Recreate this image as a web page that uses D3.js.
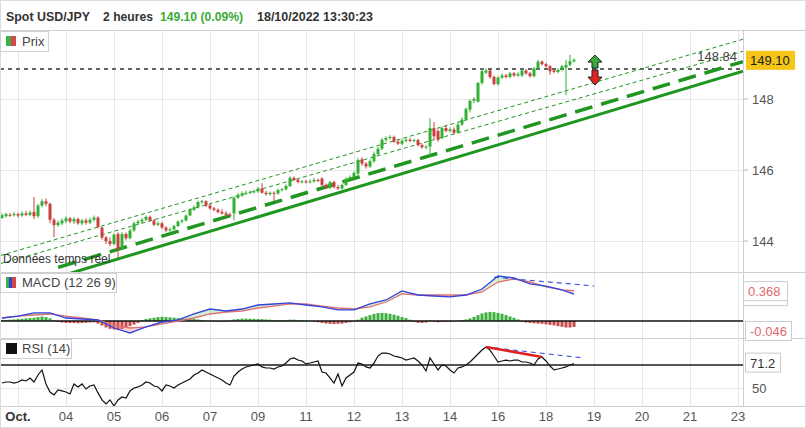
<!DOCTYPE html>
<html><head><meta charset="utf-8">
<script src="https://cdn.jsdelivr.net/npm/d3@7"></script>
<style>body{margin:0;background:#fff}svg{display:block;font-family:"Liberation Sans",Arial,sans-serif}</style>
</head><body><svg id="c" width="806" height="428"></svg>
<script>
// ---------- DATA ----------
const tickIdx = [4,16,28,40,52,64,76,88,100,112,124,136,148,160,172,184];
const tickLabels = ["Oct.","04","05","06","07","09","11","12","13","14","16","18","19","20","21","23"];
const priceTicks = [148,146,144];

const opens=[144.65,144.70,144.74,144.73,144.76,144.72,144.78,144.74,144.82,144.70,
145.00,145.12,145.05,144.60,144.45,144.50,144.56,144.64,144.55,144.62,
144.50,144.58,144.52,144.60,144.66,144.38,144.10,144.00,143.92,144.20,
143.80,144.20,144.08,144.30,144.50,144.55,144.60,144.68,144.58,144.46,
144.50,144.38,144.30,144.33,144.42,144.55,144.58,144.72,144.88,144.95,
145.10,145.12,145.00,144.92,144.88,144.82,144.78,144.74,144.78,145.22,
145.28,145.34,145.36,145.38,145.40,145.48,145.36,145.32,145.36,145.34,
145.44,145.46,145.55,145.78,145.72,145.66,145.68,145.66,145.68,145.72,
145.76,145.58,145.50,145.66,145.52,145.48,145.58,145.75,145.80,145.90,
146.30,146.18,146.10,146.25,146.45,146.60,146.85,146.90,146.93,146.80,
146.74,146.82,146.85,146.82,146.84,146.70,146.64,146.66,147.18,147.10,
146.90,147.18,147.10,147.14,147.05,147.28,147.42,147.70,147.95,147.92,
148.45,148.74,148.80,148.62,148.42,148.60,148.66,148.62,148.72,148.66,
148.66,148.80,148.72,148.64,148.86,149.05,148.98,148.92,148.80,148.76,
148.82,148.88,148.96,149.06];
const highs=[144.78,144.80,144.79,144.82,144.80,144.84,144.85,144.86,145.24,145.05,
145.18,145.20,145.08,144.65,144.58,144.64,144.70,144.68,144.68,144.66,
144.62,144.64,144.66,144.72,144.70,144.40,144.15,144.10,144.22,144.25,
144.25,144.24,144.35,144.55,144.60,144.66,144.72,144.72,144.62,144.55,
144.54,144.42,144.38,144.46,144.58,144.62,144.75,144.92,145.00,145.14,
145.16,145.15,145.05,144.96,144.92,144.90,144.84,144.80,145.26,145.36,
145.40,145.42,145.42,145.45,145.52,145.63,145.42,145.40,145.40,145.48,
145.50,145.60,145.82,145.82,145.76,145.72,145.72,145.74,145.78,145.76,
145.80,145.62,145.70,145.70,145.58,145.62,145.80,145.85,145.96,146.34,
146.36,146.22,146.30,146.52,146.65,146.90,146.95,146.98,146.97,146.86,
146.88,146.90,146.90,146.88,146.88,146.75,146.70,147.46,147.35,147.14,
147.22,147.27,147.20,147.20,147.32,147.48,147.76,147.98,148.05,148.48,
148.82,148.86,148.84,148.66,148.64,148.72,148.70,148.76,148.76,148.75,
148.85,148.84,148.76,148.90,149.10,149.08,149.02,148.96,148.86,148.86,
148.96,149.10,149.24,149.14];
const lows=[144.62,144.66,144.68,144.69,144.66,144.68,144.70,144.70,144.62,144.66,
144.95,144.98,144.50,144.11,144.40,144.45,144.50,144.50,144.48,144.46,
144.44,144.46,144.48,144.55,144.36,144.04,143.92,143.85,143.88,143.52,
143.76,144.02,144.05,144.26,144.45,144.50,144.56,144.55,144.42,144.42,
144.34,144.25,144.26,144.30,144.40,144.50,144.55,144.70,144.85,144.92,
145.05,144.96,144.88,144.84,144.78,144.74,144.70,144.68,144.58,145.18,
145.24,145.30,145.32,145.34,145.36,145.34,145.28,145.28,145.12,145.30,
145.40,145.42,145.52,145.68,145.62,145.62,145.62,145.62,145.64,145.66,
145.54,145.46,145.46,145.48,145.44,145.45,145.55,145.72,145.76,145.86,
146.12,146.04,146.06,146.20,146.40,146.56,146.80,146.86,146.76,146.70,
146.70,146.78,146.78,146.78,146.66,146.60,146.58,146.37,146.85,146.80,
146.86,147.06,147.06,147.00,147.02,147.24,147.38,147.62,147.88,147.90,
148.40,148.70,148.56,148.38,148.38,148.56,148.58,148.58,148.62,148.62,
148.62,148.68,148.60,148.60,148.82,148.94,148.88,148.68,148.72,148.72,
148.78,148.11,148.92,149.02];
const closes=[144.73,144.76,144.73,144.76,144.72,144.78,144.74,144.80,144.70,145.00,
145.12,145.05,144.60,144.45,144.52,144.58,144.64,144.55,144.62,144.50,
144.58,144.52,144.60,144.66,144.40,144.10,144.00,143.92,144.18,143.78,
144.20,144.08,144.30,144.50,144.55,144.60,144.68,144.58,144.46,144.50,
144.38,144.30,144.33,144.42,144.55,144.58,144.72,144.88,144.95,145.10,
145.12,145.00,144.92,144.88,144.82,144.78,144.74,144.72,145.22,145.30,
145.34,145.36,145.38,145.40,145.48,145.36,145.32,145.36,145.34,145.44,
145.46,145.55,145.78,145.72,145.66,145.68,145.66,145.68,145.72,145.70,
145.58,145.50,145.66,145.52,145.48,145.58,145.75,145.80,145.92,146.28,
146.18,146.10,146.25,146.45,146.60,146.85,146.90,146.93,146.80,146.74,
146.82,146.85,146.82,146.84,146.70,146.64,146.66,147.18,146.95,146.85,
147.18,147.10,147.14,147.05,147.28,147.42,147.72,147.95,148.00,148.45,
148.78,148.80,148.62,148.42,148.60,148.66,148.62,148.72,148.66,148.70,
148.80,148.72,148.64,148.86,149.05,148.98,148.92,148.78,148.76,148.82,
148.92,148.96,149.06,149.10];

const lastPrice = 149.10;
const refLevel = 148.84;
// channel lines: [index0, price0, index1, price1]
const solidLine = [-0.5,142.50,185.25,148.78];
const longDashLine = [14,143.26,185.25,149.05];
const thinLines = [[-0.5,143.59,185.25,149.68],[-0.5,143.36,185.25,149.34]];

// MACD (sampled at macdIdx)
const macdIdx=[0,4,8,12,16,20,24,28,32,36,40,44,48,52,56,60,64,68,72,76,80,84,88,92,96,100,104,108,112,116,120,124,128,132,136,140,143];
const macdVals=[0.041,0.068,0.110,0.110,0.041,0.027,0.014,-0.096,-0.164,-0.082,
-0.014,0.014,0.096,0.164,0.137,0.164,0.219,0.233,0.247,0.219,
0.192,0.151,0.151,0.233,0.288,0.411,0.356,0.342,0.329,0.356,
0.438,0.616,0.589,0.507,0.479,0.425,0.368];
const signalVals=[0.041,0.068,0.082,0.096,0.068,0.041,0.014,-0.055,-0.096,-0.082,
-0.041,0,0.041,0.096,0.123,0.137,0.178,0.205,0.233,0.233,
0.205,0.178,0.164,0.192,0.260,0.370,0.356,0.356,0.356,0.356,
0.397,0.534,0.575,0.534,0.466,0.425,0.414];
const histVals=[0.005,0.008,0.01,0.012,0.015,0.017,0.02,0.022,0.025,0.03,
0.034,0.03,0.02,0.005,-0.008,-0.012,-0.015,-0.016,-0.016,-0.018,
-0.016,-0.014,-0.012,-0.01,-0.02,-0.035,-0.05,-0.06,-0.065,-0.07,
-0.062,-0.05,-0.04,-0.028,-0.015,0.005,0.015,0.02,0.025,0.03,
0.032,0.03,0.028,0.025,0.022,0.02,0.018,0.016,0.015,0.012,
0.008,0.004,0.002,-0.003,-0.005,-0.006,-0.004,0.004,0.012,0.015,
0.018,0.018,0.017,0.016,0.015,0.014,0.012,0.01,0.008,0.006,
0.006,0.007,0.01,0.01,0.008,0.005,0.003,0.001,-0.005,-0.01,
-0.015,-0.02,-0.022,-0.024,-0.022,-0.02,-0.015,-0.01,-0.004,0.01,
0.025,0.035,0.045,0.055,0.06,0.062,0.06,0.055,0.048,0.04,
0.03,0.022,0.01,-0.008,-0.014,-0.015,-0.012,0.004,-0.006,-0.01,
-0.008,-0.006,-0.004,-0.002,0.002,0.006,0.012,0.02,0.032,0.045,
0.058,0.066,0.07,0.068,0.062,0.055,0.045,0.035,0.025,0.012,
-0.006,-0.012,-0.015,-0.018,-0.02,-0.022,-0.026,-0.03,-0.034,-0.04,
-0.045,-0.05,-0.05,-0.046];
const macdTrend=[123,0.60,148,0.48];
const macdLabel=0.368, histLabel=-0.046;

// RSI (14)
const rsiVals=[54.3,55.2,55.2,54.3,55.2,57.0,56.1,58.7,55.2,61.3,
65.7,53.5,46.5,43.9,48.3,47.4,46.5,44.8,53.5,50.9,
53.5,49.1,51.7,52.6,45.7,39.6,36.1,39.6,34.3,39.6,
42.2,41.3,47.4,50.0,50.9,52.6,55.2,54.3,51.7,50.9,
47.4,52.6,51.7,50.0,52.6,54.3,56.1,57.8,61.3,63.0,
65.7,63.9,62.2,60.4,58.7,57.0,54.3,52.6,60.4,63.9,
66.5,68.3,69.1,70.0,70.9,68.3,67.4,67.4,66.5,68.3,
69.1,71.7,75.2,76.1,74.3,73.5,70.9,71.7,72.6,73.5,
63.9,63.0,58.7,54.3,62.2,51.7,58.7,61.3,63.9,71.7,
70.9,68.3,67.4,71.7,77.8,80.4,80.4,79.6,77.8,77.0,
76.1,74.3,75.2,76.1,73.5,70.0,64.8,76.1,70.9,65.7,
70.0,69.1,65.7,63.0,67.4,68.3,70.0,72.6,76.1,79.6,
83.0,85.7,83.0,77.8,72.6,73.5,74.3,73.5,74.3,74.3,
72.6,72.6,71.7,70.0,75.2,77.0,73.5,69.1,65.7,66.5,
67.4,68.3,70.0,71.2];
const rsiRed=[121,85.7,135,77.0];
const rsiBlue=[121,85.7,145,76.3];
const rsiLevel=70, rsiTicks=[50];

// header texts
const headerParts=[["Spot USD/JPY",6,84,"#333"],["2 heures",103,50,"#333"],[lastPrice.toFixed(2)+" (0.09%)",160,83,"#3aaa35"],["18/10/2022 13:30:23",257,116,"#333"]];

// ---------- DRAW ----------
const svg=d3.select("#c");
const W=806,H=428,PR=743;
const GREEN="#33b033", RED="#c94040", TL="#1f961f";
const x=d3.scaleLinear().domain([-0.5,185.25]).range([0,PR]);
const yP=d3.scaleLinear().domain([143.13,149.94]).range([272,30]);
const yM=d3.scaleLinear().domain([-0.233,0.671]).range([338,272]);
const yH=d3.scaleLinear().domain([-0.131,0.377]).range([338,272]);
const yR=d3.scaleLinear().domain([34.3,93.5]).range([406,338]);

svg.append("rect").attr("width",W).attr("height",H).attr("fill","#fff");
const defs=svg.append("defs");
[["cp",30,272],["cm",272,338],["cr",338,406]].forEach(([id,a,b])=>{
  defs.append("clipPath").attr("id",id).append("rect").attr("x",0).attr("y",a).attr("width",PR).attr("height",b-a);
});

// grid
const grid=svg.append("g").attr("stroke","#e6e6e6").attr("stroke-width",1);
tickIdx.forEach(t=>grid.append("line").attr("x1",Math.round(x(t))+0.5).attr("x2",Math.round(x(t))+0.5).attr("y1",30).attr("y2",406));
priceTicks.forEach(p=>grid.append("line").attr("x1",0).attr("x2",PR).attr("y1",Math.round(yP(p))+0.5).attr("y2",Math.round(yP(p))+0.5));
rsiTicks.forEach(p=>grid.append("line").attr("x1",0).attr("x2",PR).attr("y1",Math.round(yR(p))+0.5).attr("y2",Math.round(yR(p))+0.5));

// ---- price panel ----
const gp=svg.append("g").attr("clip-path","url(#cp)");
gp.append("line").attr("x1",0).attr("x2",PR).attr("y1",yP(refLevel)).attr("y2",yP(refLevel))
  .attr("stroke","#666").attr("stroke-width",2).attr("stroke-dasharray","4,4");
thinLines.forEach(l=>gp.append("line").attr("x1",x(l[0])).attr("y1",yP(l[1])).attr("x2",x(l[2])).attr("y2",yP(l[3]))
  .attr("stroke",TL).attr("stroke-width",1).attr("stroke-dasharray","4,3"));
gp.append("line").attr("x1",x(longDashLine[0])).attr("y1",yP(longDashLine[1])).attr("x2",x(longDashLine[2])).attr("y2",yP(longDashLine[3]))
  .attr("stroke",TL).attr("stroke-width",3.5).attr("stroke-dasharray","18,9");
gp.append("line").attr("x1",x(solidLine[0])).attr("y1",yP(solidLine[1])).attr("x2",x(solidLine[2])).attr("y2",yP(solidLine[3]))
  .attr("stroke",TL).attr("stroke-width",3);

const candles=closes.map((c,i)=>({i,o:opens[i],h:highs[i],l:lows[i],c}));
const cg=gp.append("g");
cg.selectAll("line.w").data(candles).join("line").attr("class","w")
  .attr("x1",d=>x(d.i)).attr("x2",d=>x(d.i)).attr("y1",d=>yP(d.h)).attr("y2",d=>yP(d.l))
  .attr("stroke",d=>d.c>=d.o?GREEN:RED).attr("stroke-width",1);
cg.selectAll("rect").data(candles).join("rect")
  .attr("x",d=>x(d.i)-1.5).attr("width",3)
  .attr("y",d=>yP(Math.max(d.o,d.c))).attr("height",d=>Math.max(1,Math.abs(yP(d.o)-yP(d.c))))
  .attr("fill",d=>d.c>=d.o?GREEN:RED);

// arrows
const ax=x(148.25), ay=yP(refLevel);
svg.append("path").attr("d",`M${ax},${ay-14} L${ax+7},${ay-7} L${ax+3},${ay-7} L${ax+3},${ay-1} L${ax-3},${ay-1} L${ax-3},${ay-7} L${ax-7},${ay-7} Z`)
  .attr("fill","#3aa83a").attr("stroke","#222").attr("stroke-width",1);
svg.append("path").attr("d",`M${ax-3},${ay+1} L${ax+3},${ay+1} L${ax+3},${ay+8} L${ax+7},${ay+8} L${ax},${ay+16} L${ax-7},${ay+8} L${ax-3},${ay+8} Z`)
  .attr("fill","#e32222").attr("stroke","#222").attr("stroke-width",1);
svg.append("text").attr("x",x(173.8)).attr("y",yP(refLevel)-8).attr("font-size",13).attr("fill","#444").text(refLevel.toFixed(2));

svg.append("text").attr("x",3).attr("y",263).attr("font-size",12).attr("fill","#333").text("Données temps réel");

// ---- MACD panel ----
const gm=svg.append("g").attr("clip-path","url(#cm)");
const hd=histVals.map((v,i)=>({i,v}));
gm.selectAll("rect").data(hd).join("rect")
  .attr("x",d=>x(d.i)-1.5).attr("width",3)
  .attr("y",d=>Math.min(yH(0),yH(d.v))).attr("height",d=>Math.abs(yH(d.v)-yH(0)))
  .attr("fill",d=>d.v>=0?"#3cb03c":"#c94a4a");
gm.append("line").attr("x1",0).attr("x2",PR).attr("y1",yM(0)).attr("y2",yM(0)).attr("stroke","#111").attr("stroke-width",1.5);
const md=macdIdx.map((t,k)=>({t,m:macdVals[k],s:signalVals[k]}));
defs.append("clipPath").attr("id","abv").append("path")
  .attr("d",d3.area().x(d=>x(d.t)).y0(272).y1(d=>yM(d.s))(md));
defs.append("clipPath").attr("id","blw").append("path")
  .attr("d",d3.area().x(d=>x(d.t)).y0(338).y1(d=>yM(d.s))(md));
const bandL=d3.area().x(d=>x(d.t)).y0(d=>yM(d.s)).y1(d=>yM(d.m));
gm.append("g").attr("clip-path","url(#abv)").append("path").attr("d",bandL(md)).attr("fill","rgba(110,200,110,0.3)");
gm.append("g").attr("clip-path","url(#blw)").append("path").attr("d",bandL(md)).attr("fill","rgba(235,120,120,0.3)");
gm.append("path").attr("d",d3.line().x(d=>x(d.t)).y(d=>yM(d.s))(md)).attr("fill","none").attr("stroke","#e07272").attr("stroke-width",1.3);
gm.append("path").attr("d",d3.line().x(d=>x(d.t)).y(d=>yM(d.m))(md)).attr("fill","none").attr("stroke","#3344dd").attr("stroke-width",1.3);
svg.append("line").attr("x1",x(macdTrend[0])).attr("y1",yM(macdTrend[1])).attr("x2",x(macdTrend[2])).attr("y2",yM(macdTrend[3]))
  .attr("stroke","#4455dd").attr("stroke-width",1.2).attr("stroke-dasharray","5,4");

// ---- RSI panel ----
const gr=svg.append("g").attr("clip-path","url(#cr)");
gr.append("line").attr("x1",0).attr("x2",PR).attr("y1",yR(rsiLevel)).attr("y2",yR(rsiLevel)).attr("stroke","#555").attr("stroke-width",2);
gr.append("path").attr("d",d3.line().x((d,i)=>x(i)).y(d=>yR(d))(rsiVals)).attr("fill","none").attr("stroke","#111").attr("stroke-width",1.2);
svg.append("line").attr("x1",x(rsiBlue[0])).attr("y1",yR(rsiBlue[1])).attr("x2",x(rsiBlue[2])).attr("y2",yR(rsiBlue[3]))
  .attr("stroke","#4455dd").attr("stroke-width",1.2).attr("stroke-dasharray","5,4");
svg.append("line").attr("x1",x(rsiRed[0])).attr("y1",yR(rsiRed[1])).attr("x2",x(rsiRed[2])).attr("y2",yR(rsiRed[3]))
  .attr("stroke","#e02020").attr("stroke-width",2.5);

// ---- frames ----
const fr=svg.append("g").attr("stroke","#cfcfcf").attr("stroke-width",1);
[30,272,338,406].forEach(y=>fr.append("line").attr("x1",0).attr("x2",W).attr("y1",y+0.5).attr("y2",y+0.5));
fr.append("line").attr("x1",PR+0.5).attr("x2",PR+0.5).attr("y1",30).attr("y2",406);
svg.append("rect").attr("x",0.5).attr("y",0.5).attr("width",W-1).attr("height",H-1).attr("fill","none").attr("stroke","#ddd");

// header
headerParts.forEach(([t,xx,w,c])=>svg.append("text").attr("x",xx).attr("y",21).attr("font-size",13.5).attr("font-weight","bold")
  .attr("fill",c).attr("textLength",w).attr("lengthAdjust","spacingAndGlyphs").text(t));

// legends
function legend(y,w,h,label,icon){
  svg.append("rect").attr("x",0.5).attr("y",y+0.5).attr("width",w).attr("height",h).attr("fill","rgba(255,255,255,0.9)").attr("stroke","#d0d0d0");
  icon(y);
  svg.append("text").attr("x",22).attr("y",y+h-5).attr("font-size",13).attr("fill","#444").text(label);
}
legend(31,48,20,"Prix",y=>{svg.append("rect").attr("x",6).attr("y",y+5).attr("width",5).attr("height",10).attr("fill","#3cb043");svg.append("rect").attr("x",11).attr("y",y+5).attr("width",5).attr("height",10).attr("fill","#d04848");});
legend(273,116,19,"MACD (12 26 9)",y=>{[["#3cb043",6],["#3344dd",9],["#d04848",12]].forEach(([c,xx])=>svg.append("rect").attr("x",xx).attr("y",y+4).attr("width",xx==12?4:3).attr("height",11).attr("fill",c));});
legend(339,71,19,"RSI (14)",y=>{svg.append("rect").attr("x",6).attr("y",y+4).attr("width",11).attr("height",11).attr("fill","#111");});

// right axis
const ra=svg.append("g").attr("font-size",13).attr("fill","#555");
priceTicks.forEach(p=>{
  svg.append("line").attr("x1",PR).attr("x2",PR+5).attr("y1",yP(p)).attr("y2",yP(p)).attr("stroke","#bbb");
  ra.append("text").attr("x",752).attr("y",yP(p)+5).text(p);
});
svg.append("rect").attr("x",746).attr("y",yP(lastPrice)-9).attr("width",49).attr("height",19).attr("fill","#f5c518");
svg.append("text").attr("x",750).attr("y",yP(lastPrice)+5).attr("font-size",13).attr("fill","#222").text(lastPrice.toFixed(2));
function boxLabel(xx,y,w,txt,col){
  svg.append("rect").attr("x",xx+0.5).attr("y",y-9.5).attr("width",w).attr("height",19).attr("fill","#fff").attr("stroke","#ccc");
  svg.append("text").attr("x",xx+5).attr("y",y+5).attr("font-size",13).attr("fill",col).text(txt);
}
svg.append("rect").attr("x",743.5).attr("y",yM(macdLabel)-8.5).attr("width",44).attr("height",20).attr("fill","#fff").attr("stroke","#ccc");
boxLabel(743,yM(macdLabel)-3,44,macdLabel.toFixed(3),"#e06a6a");
boxLabel(745,yH(histLabel)+4,46,histLabel.toFixed(3),"#e06a6a");
boxLabel(745,yR(71.2)-1,35,"71.2","#333");
rsiTicks.forEach(p=>ra.append("text").attr("x",752).attr("y",yR(p)+5).text(p));

// x axis labels
svg.append("g").selectAll("text").data(tickIdx).join("text")
  .attr("x",d=>x(d)).attr("y",421).attr("text-anchor","middle").attr("font-size",13)
  .attr("font-weight",(d,i)=>i==0?"bold":"normal").attr("fill",(d,i)=>i==0?"#333":"#555")
  .text((d,i)=>tickLabels[i]);
</script></body></html>
